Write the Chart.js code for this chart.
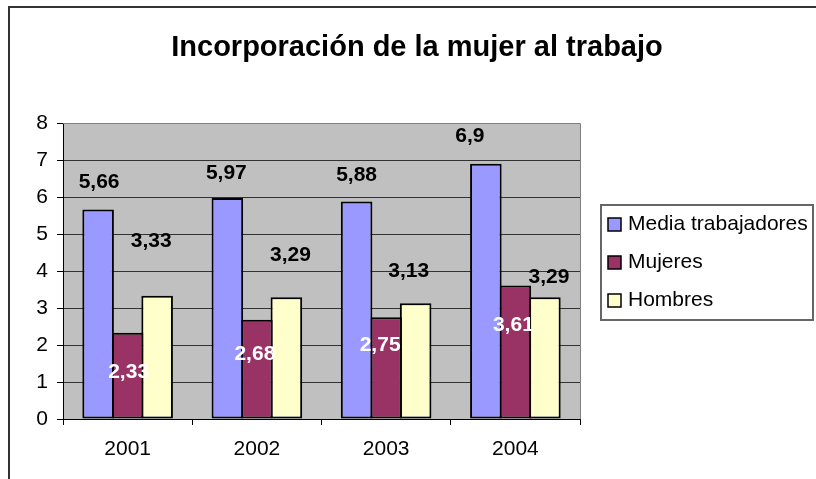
<!DOCTYPE html>
<html>
<head>
<meta charset="utf-8">
<script src="https://cdn.jsdelivr.net/npm/chart.js@4"></script>
<style>
  html, body { margin: 0; padding: 0; background: #fff; }
  #wrap { width: 816px; height: 479px; position: relative; }
</style>
</head>
<body>
<div id="wrap"><canvas id="chart" width="816" height="479"></canvas></div>
<script>
// ===============================
// DATOS
// ===============================
const years = ["2001", "2002", "2003", "2004"];
const mediaTrabajadores = [5.66, 5.97, 5.88, 6.9];
const mujeres = [2.33, 2.68, 2.75, 3.61];
const hombres = [3.33, 3.29, 3.13, 3.29];
const yTicks = [0, 1, 2, 3, 4, 5, 6, 7, 8];

// desplazamiento de etiquetas (px) respecto al borde superior de la barra
const labelNudge = [
  { color: "#000", dx: [1, -1, 0, -16], dy: [-27, -25, -26, -27] },
  { color: "#fff", dx: [1, -2, -6, -2], dy: [39, 34, 28, 40] },
  { color: "#000", dx: [-6, 4, -7, 4], dy: [-55, -42, -32, -20] },
];

const FONT = "'Liberation Sans', Arial, sans-serif";

// ===============================
// PLUGIN: fondo, titulo, leyenda, etiquetas
// ===============================
const excelLook = {
  id: "excelLook",
  beforeDraw(chart) {
    const { ctx, chartArea: a } = chart;
    ctx.save();
    ctx.fillStyle = "#fff";
    ctx.fillRect(0, 0, chart.width, chart.height);
    ctx.strokeStyle = "#333";
    ctx.lineWidth = 2;
    ctx.strokeRect(9, 7, chart.width + 20, chart.height + 20);
    ctx.fillStyle = "#c0c0c0";
    ctx.fillRect(a.left, a.top, a.right - a.left, a.bottom - a.top);
    ctx.restore();
  },
  afterDatasetsDraw(chart) {
    const { ctx } = chart;
    ctx.save();
    ctx.font = "bold 21px " + FONT;
    ctx.textAlign = "center";
    ctx.textBaseline = "middle";
    chart.data.datasets.forEach((ds, i) => {
      const meta = chart.getDatasetMeta(i);
      const n = labelNudge[i];
      meta.data.forEach((bar, j) => {
        ctx.fillStyle = n.color;
        const txt = String(ds.data[j]).replace(".", ",");
        ctx.fillText(txt, bar.x + n.dx[j], bar.y + n.dy[j]);
      });
    });
    ctx.restore();
  },
  afterDraw(chart) {
    const { ctx, chartArea: a } = chart;
    ctx.save();
    // borde gris del area de trazado (arriba / derecha)
    ctx.strokeStyle = "#808080";
    ctx.lineWidth = 1;
    ctx.beginPath();
    ctx.moveTo(a.left, a.top + 0.5);
    ctx.lineTo(a.right + 0.5, a.top + 0.5);
    ctx.lineTo(a.right + 0.5, a.bottom);
    ctx.stroke();

    // titulo
    ctx.fillStyle = "#000";
    ctx.font = "bold 29px " + FONT;
    ctx.textAlign = "center";
    ctx.textBaseline = "alphabetic";
    ctx.fillText("Incorporación de la mujer al trabajo", 417, 56);

    // leyenda
    ctx.strokeStyle = "#666";
    ctx.lineWidth = 2;
    ctx.strokeRect(601, 205, 212, 115);
    ctx.font = "21px " + FONT;
    ctx.textAlign = "left";
    ctx.textBaseline = "middle";
    chart.data.datasets.forEach((ds, i) => {
      const y = 224 + i * 38;
      ctx.fillStyle = ds.backgroundColor;
      ctx.fillRect(608, y - 6, 13, 13);
      ctx.strokeStyle = "#000";
      ctx.lineWidth = 1.5;
      ctx.strokeRect(608, y - 6, 13, 13);
      ctx.fillStyle = "#000";
      ctx.fillText(ds.label, 628, y);
    });
    ctx.restore();
  },
};

// ===============================
// GRAFICO
// ===============================
// barras solapadas 2px para que el borde entre barras sea una sola linea
const barStyle = {
  borderColor: "#000",
  borderWidth: 2,
  borderSkipped: false,
  inflateAmount: 0,
  categoryPercentage: 0.685,
  barPercentage: 1.07,
};

const ctx = document.getElementById("chart").getContext("2d");
const chart = new Chart(ctx, {
  type: "bar",
  data: {
    labels: years,
    datasets: [
      { label: "Media trabajadores", data: mediaTrabajadores, backgroundColor: "#9999ff", ...barStyle },
      { label: "Mujeres", data: mujeres, backgroundColor: "#993366", ...barStyle },
      { label: "Hombres", data: hombres, backgroundColor: "#ffffcc", ...barStyle },
    ],
  },
  options: {
    responsive: false,
    animation: false,
    layout: { padding: { left: 0, top: 123, right: 236, bottom: 0 } },
    plugins: {
      legend: { display: false },
      title: { display: false },
      tooltip: { enabled: false },
    },
    scales: {
      x: {
        afterFit(s) { s.height = 60; },
        grid: {
          display: true,
          drawOnChartArea: false,
          offset: true,
          tickLength: 6,
          tickColor: "#000",
        },
        border: { color: "#000", width: 1 },
        ticks: { color: "#000", font: { family: FONT, size: 21 }, padding: 12 },
      },
      y: {
        min: 0,
        max: 8,
        afterFit(s) { s.width = 63; },
        afterBuildTicks(s) { s.ticks = yTicks.map(v => ({ value: v })); },
        grid: {
          color: c => (c.tick && c.tick.value === 8 ? "#808080" : "#333"),
          tickLength: 6,
          tickColor: "#000",
        },
        border: { color: "#000", width: 1 },
        ticks: { color: "#000", font: { family: FONT, size: 21 }, padding: 9 },
      },
    },
  },
  plugins: [excelLook],
});
</script>
</body>
</html>
